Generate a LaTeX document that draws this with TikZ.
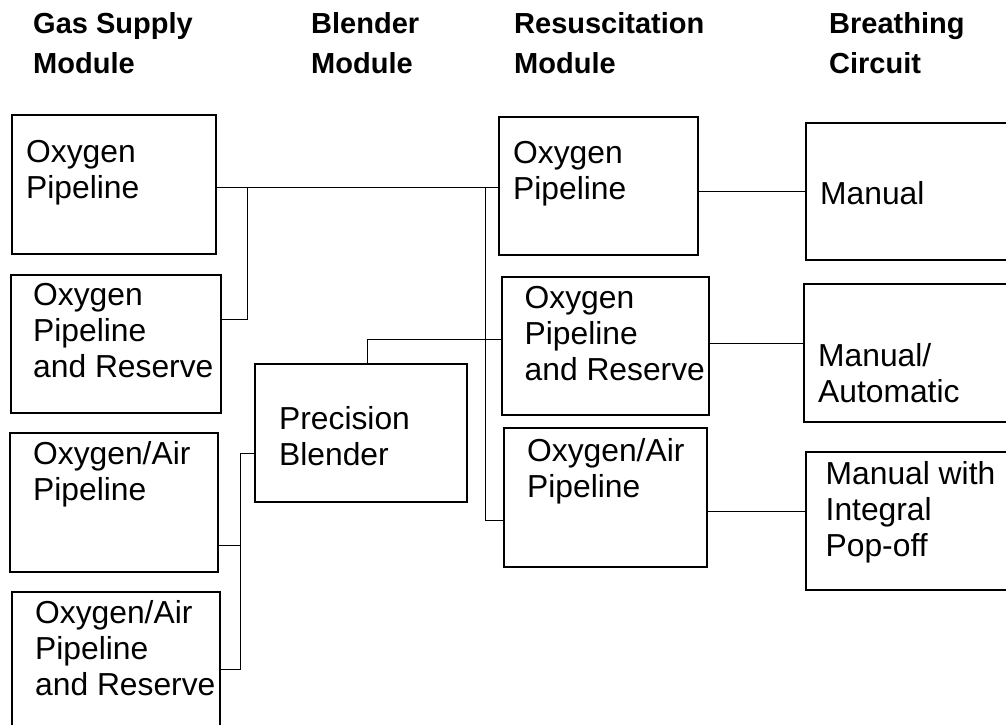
\documentclass[tikz,border=0pt]{standalone}
\usepackage{fontspec}
\setmainfont{Liberation Sans}
\usetikzlibrary{positioning}

\begin{document}
\begin{tikzpicture}[x=1pt, y=-1pt,
	box/.style={draw, line width=1.1pt, inner sep=0pt},
	txt/.style={align=left, inner sep=0pt, font=\fontsize{31.8}{36}\selectfont},
	head/.style={anchor=north west, align=left, inner sep=0pt, font=\fontsize{29}{40}\selectfont\bfseries},
	link/.style={line width=1pt}]
	\useasboundingbox (0,0) rectangle (1006,725);
	
	% Column headings
	\node[head] (hdgas) at (33,12) {Gas Supply\\Module};
	\node[head] (hdblend) at (311,12) {Blender\\Module};
	\node[head] (hdresus) at (514,12) {Resuscitation\\Module};
	\node[head] (hdbreath) at (829,12) {Breathing\\Circuit};
	
	% Gas supply module
	\node[box, minimum width=204pt, minimum height=139pt] (gs1) at (114,184.5) {};
	\node[txt, below right=26pt and 14.5pt of gs1.north west] (gs1t) {Oxygen\\Pipeline};
	\node[box, minimum width=210pt, minimum height=138pt] (gs2) at (116,344) {};
	\node[txt, below right=9pt and 22.5pt of gs2.north west] (gs2t) {Oxygen\\Pipeline\\and Reserve};
	\node[box, minimum width=208pt, minimum height=139pt] (gs3) at (114,502.5) {};
	\node[txt, below right=9pt and 23.5pt of gs3.north west] (gs3t) {Oxygen/Air\\Pipeline};
	\node[box, minimum width=208pt, minimum height=139pt] (gs4) at (116,661.5) {};
	\node[txt, below right=9pt and 23.5pt of gs4.north west] (gs4t) {Oxygen/Air\\Pipeline\\and Reserve};
	
	% Blender module
	\node[box, minimum width=212pt, minimum height=138pt] (bl) at (361,433) {};
	\node[txt, below right=43pt and 24.5pt of bl.north west] (blt) {Precision\\Blender};
	
	% Resuscitation module
	\node[box, minimum width=199pt, minimum height=138pt] (rm1) at (598.5,186) {};
	\node[txt, below right=25pt and 14.5pt of rm1.north west] (rm1t) {Oxygen\\Pipeline};
	\node[box, minimum width=207pt, minimum height=138pt] (rm2) at (605.5,346) {};
	\node[txt, below right=10pt and 23pt of rm2.north west] (rm2t) {Oxygen\\Pipeline\\and Reserve};
	\node[box, minimum width=203pt, minimum height=139pt] (rm3) at (605.5,497.5) {};
	\node[txt, below right=11pt and 23.5pt of rm3.north west] (rm3t) {Oxygen/Air\\Pipeline};
	
	% Breathing circuit
	\node[box, minimum width=206pt, minimum height=137pt] (bc1) at (909,191.5) {};
	\node[txt, below right=59pt and 14.5pt of bc1.north west] (bc1t) {Manual};
	\node[box, minimum width=206pt, minimum height=138pt] (bc2) at (907,353) {};
	\node[txt, below right=60pt and 14.5pt of bc2.north west] (bc2t) {Manual/\\Automatic};
	\node[box, minimum width=206pt, minimum height=138pt] (bc3) at (909,521) {};
	\node[txt, below right=10pt and 20pt of bc3.north west] (bc3t) {Manual with\\Integral\\Pop-off};
	
	% Connections
	\coordinate (jo) at (247,187);
	\coordinate (jr) at (485,187);
	\coordinate (jb) at (240,453);
	\draw[link] ([yshift=-2.5pt]gs1.east) -- ([yshift=-1pt]rm1.west);
	\draw[link] (jo) |- ([yshift=25pt]gs2.east);
	\draw[link] (jr) |- ([yshift=-22.5pt]rm3.west);
	\draw[link] ([xshift=6pt]bl.north) |- ([yshift=7pt]rm2.west);
	\draw[link] ([yshift=-20pt]bl.west) -- (jb) |- ([yshift=-7.5pt]gs4.east);
	\draw[link] ([yshift=-42.5pt]gs3.east) -- +(22pt,0);
	\draw[link] (bc1.west -| rm1.east) -- (bc1.west);
	\draw[link] ([yshift=3pt]rm2.east) -- +(95pt,0);
	\draw[link] ([yshift=-13.5pt]rm3.east) -- +(99pt,0);
\end{tikzpicture}
\end{document}
